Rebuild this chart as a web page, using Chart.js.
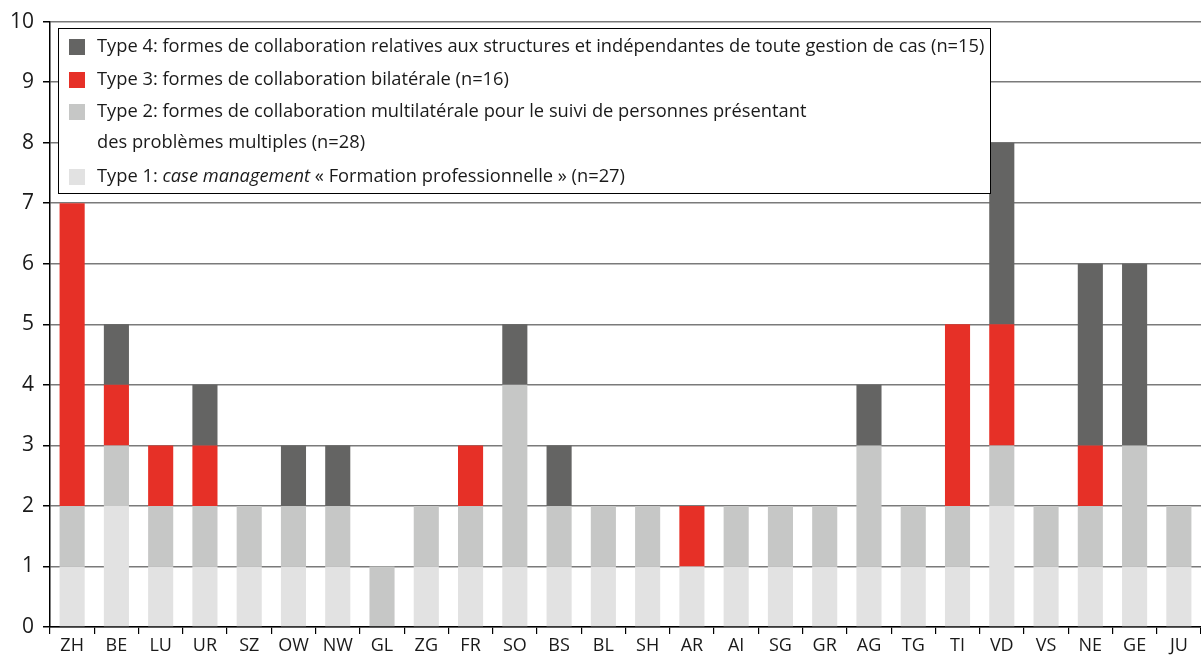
<!DOCTYPE html>
<html>
<head>
<meta charset="utf-8">
<script src="https://cdn.jsdelivr.net/npm/chart.js@4"></script>
<style>
  body { margin: 0; background: #fff; }
  #wrap { width: 1201px; height: 661px; position: relative; }
</style>
</head>
<body>
<div id="wrap"><canvas id="grafico"></canvas></div>
<script>
// cantons
var cantons = ['ZH', 'BE', 'LU', 'UR', 'SZ', 'OW', 'NW', 'GL', 'ZG', 'FR', 'SO', 'BS', 'BL',
    'SH', 'AR', 'AI', 'SG', 'GR', 'AG', 'TG', 'TI', 'VD', 'VS', 'NE', 'GE', 'JU'];

// nombre de formes de collaboration par type
var type1 = [1, 2, 1, 1, 1, 1, 1, 0, 1, 1, 1, 1, 1, 1, 1, 1, 1, 1, 1, 1, 1, 2, 1, 1, 1, 1];
var type2 = [1, 1, 1, 1, 1, 1, 1, 1, 1, 1, 3, 1, 1, 1, 0, 1, 1, 1, 2, 1, 1, 1, 1, 1, 2, 1];
var type3 = [5, 1, 1, 1, 0, 0, 0, 0, 0, 1, 0, 0, 0, 0, 1, 0, 0, 0, 0, 0, 3, 2, 0, 1, 0, 0];
var type4 = [0, 1, 0, 1, 0, 1, 1, 0, 0, 0, 1, 1, 0, 0, 0, 0, 0, 0, 1, 0, 0, 3, 0, 3, 3, 0];

var yTicks = [0, 1, 2, 3, 4, 5, 6, 7, 8, 9, 10];

// textes de la légende (du haut vers le bas), segments [texte, italique]
var legende = [
    { couleur: '#646463', lignes: [[['Type 4: formes de collaboration relatives aux structures et indépendantes de toute gestion de cas (n=15)', false]]] },
    { couleur: '#e63027', lignes: [[['Type 3: formes de collaboration bilatérale (n=16)', false]]] },
    { couleur: '#c6c7c6', lignes: [[['Type 2: formes de collaboration multilatérale pour le suivi de personnes présentant', false]],
                                   [['des problèmes multiples (n=28)', false]]] },
    { couleur: '#e2e2e2', lignes: [[['Type 1: ', false], ['case management', true], [' « Formation professionnelle » (n=27)', false]]] }
];

var police = '"Open Sans", "Noto Sans", sans-serif';

// légende dessinée à la main (2 lignes + italique)
var legendePlugin = {
    id: 'legendePlugin',
    afterDraw: function (chart) {
        var ctx = chart.ctx;
        var x0 = 58, y0 = 28, w = 932, h = 165;
        ctx.save();
        ctx.fillStyle = '#fff';
        ctx.fillRect(x0, y0, w, h);
        ctx.strokeStyle = '#000';
        ctx.lineWidth = 1;
        ctx.strokeRect(x0 + 0.5, y0 + 0.5, w, h);

        var rowsY = [47, 80, 112, 143, 177];
        var r = 0;
        ctx.textBaseline = 'middle';
        legende.forEach(function (item) {
            ctx.fillStyle = item.couleur;
            ctx.fillRect(69, rowsY[r] - 8, 16, 16);
            item.lignes.forEach(function (ligne) {
                var x = 97;
                ligne.forEach(function (seg) {
                    ctx.font = (seg[1] ? 'italic ' : '') + '18.3px ' + police;
                    ctx.fillStyle = '#1a1a1a';
                    ctx.fillText(seg[0], x, rowsY[r]);
                    x += ctx.measureText(seg[0]).width;
                });
                r++;
            });
        });
        ctx.restore();
    }
};

var ctx = document.getElementById('grafico').getContext('2d');
var myChart = new Chart(ctx, {
    type: 'bar',
    data: {
        labels: cantons,
        datasets: [
            { label: 'Type 1', data: type1, backgroundColor: '#e2e2e2' },
            { label: 'Type 2', data: type2, backgroundColor: '#c6c7c6' },
            { label: 'Type 3', data: type3, backgroundColor: '#e63027' },
            { label: 'Type 4', data: type4, backgroundColor: '#646463' }
        ]
    },
    options: {
        responsive: true,
        maintainAspectRatio: false,
        animation: false,
        layout: { padding: { top: 20, right: 0, left: 0, bottom: 0 } },
        datasets: {
            bar: { barPercentage: 0.7, categoryPercentage: 0.81, borderWidth: 0 }
        },
        scales: {
            x: {
                stacked: true,
                offset: true,
                grid: {
                    offset: true,
                    drawOnChartArea: false,
                    drawTicks: true,
                    tickLength: 7,
                    tickColor: '#000',
                    lineWidth: 1.2
                },
                border: { color: '#000', width: 1.5 },
                ticks: {
                    color: '#1a1a1a',
                    font: { family: police, size: 18 },
                    padding: 1,
                    maxRotation: 0,
                    autoSkip: false
                },
                afterFit: function (scale) { scale.height = 34; }
            },
            y: {
                stacked: true,
                min: 0,
                max: 10,
                afterBuildTicks: function (scale) {
                    scale.ticks = yTicks.map(function (v) { return { value: v }; });
                },
                grid: {
                    color: '#7a7a7a',
                    lineWidth: 1.5,
                    drawTicks: true,
                    tickLength: 7,
                    tickColor: '#000'
                },
                border: { color: '#000', width: 1.5 },
                ticks: {
                    color: '#1a1a1a',
                    font: { family: police, size: 21 },
                    padding: 9
                },
                afterFit: function (scale) { scale.width = 50; }
            }
        },
        plugins: {
            legend: { display: false },
            tooltip: { enabled: false }
        }
    },
    plugins: [legendePlugin]
});
</script>
</body>
</html>
